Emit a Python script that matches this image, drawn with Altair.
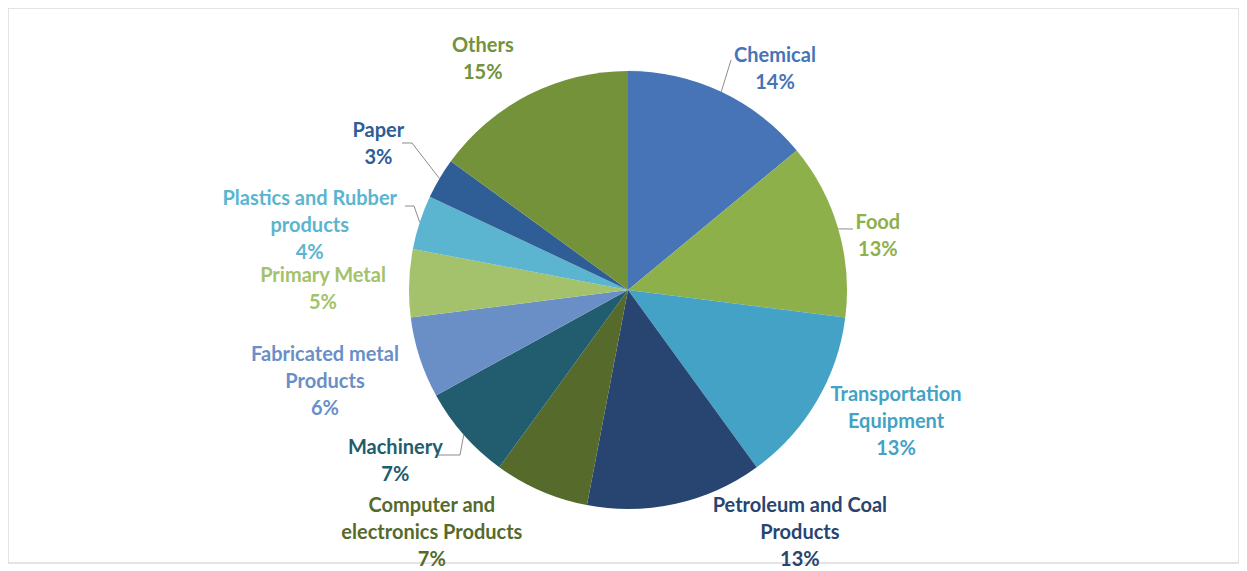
import altair as alt
import pandas as pd
import numpy as np

# ---------------- data ----------------
categories = [
    "Chemical", "Food", "Transportation Equipment", "Petroleum and Coal Products",
    "Computer and electronics Products", "Machinery", "Fabricated metal Products",
    "Primary Metal", "Plastics and Rubber products", "Paper", "Others",
]
shares = [14, 13, 13, 13, 7, 7, 6, 5, 4, 3, 15]
label_names = [
    "Chemical", "Food", "Transportation\nEquipment", "Petroleum and Coal\nProducts",
    "Computer and\nelectronics Products", "Machinery", "Fabricated metal\nProducts",
    "Primary Metal", "Plastics and Rubber\nproducts", "Paper", "Others",
]
colors = [
    "#4674B7", "#8DB04B", "#43A2C5", "#274570", "#556A2B", "#215D6E",
    "#6A8FC7", "#A3C26B", "#5BB5D0", "#2F5D96", "#73923A",
]

# ---------------- layout (pixels, plot coordinates) ----------------
W, H = 1231, 555
CX, CY, R = 620, 282, 219
LINE_H = 27
LABEL_DY = 2
label_shift_deg = [8.2, 3.6, -4.7, -22.9, 15.7, 5.3, 1.5, -1.4, -6.3, 0.0, -5.0]
label_radius = [267, 256, 298, 296, 311, 288, 316, 305, 325, 290, 274]
# leader line bends/ends for labels that have one (page coords minus margin)
leader_paths = {
    "Chemical": [(723, 52)],
    "Food": [(845, 221)],
    "Paper": [(404, 135), (394, 135)],
    "Plastics and Rubber products": [(406, 198), (397, 198)],
    "Machinery": [(452, 447), (430, 447)],
}

df = pd.DataFrame({"category": categories, "share": shares, "idx": range(len(categories))})
cum = np.cumsum(shares)
mid_deg = (cum - np.array(shares) / 2) / cum[-1] * 360.0
df["label"] = [f"{n}\n{s}%" for n, s in zip(label_names, shares)]
n_lines = np.array([lab.count("\n") + 1 for lab in df["label"]])
ang = np.radians(mid_deg + np.array(label_shift_deg))
df["lx"] = CX + np.array(label_radius) * np.sin(ang)
df["ly"] = CY - np.array(label_radius) * np.cos(ang) - (n_lines - 1) * LINE_H / 2 + LABEL_DY

rows = []
for lid, pts in leader_paths.items():
    i = categories.index(lid)
    a = np.radians(mid_deg[i])
    rows.append({"lid": lid, "pt": 0, "px": CX + R * np.sin(a), "py": CY - R * np.cos(a)})
    for k, (px, py) in enumerate(pts, start=1):
        rows.append({"lid": lid, "pt": k, "px": px, "py": py})
leaders_df = pd.DataFrame(rows)

color_scale = alt.Scale(domain=categories, range=colors)

shadow = alt.Chart(pd.DataFrame({"v": [1]})).mark_arc(
    outerRadius=R + 3, x=CX + 1, y=CY + 2, color="#000000", opacity=0.07
).encode(theta=alt.Theta("v:Q"))

pie = alt.Chart(df).mark_arc(outerRadius=R, x=CX, y=CY).encode(
    theta=alt.Theta("share:Q", stack=True),
    order=alt.Order("idx:Q"),
    color=alt.Color("category:N", scale=color_scale, legend=None),
)

leaders = alt.Chart(leaders_df).mark_line(color="#8c8c8c", strokeWidth=1).encode(
    x=alt.X("px:Q", scale=None, axis=None),
    y=alt.Y("py:Q", scale=None, axis=None),
    detail="lid:N",
    order="pt:Q",
)

labels = alt.Chart(df).mark_text(
    font="Lato", fontWeight="bold", fontSize=20, lineBreak="\n", lineHeight=LINE_H,
    align="center", baseline="middle",
).encode(
    x=alt.X("lx:Q", scale=None, axis=None),
    y=alt.Y("ly:Q", scale=None, axis=None),
    text="label:N",
    color=alt.Color("category:N", scale=color_scale, legend=None),
)

chart = alt.layer(shadow, pie, leaders, labels).properties(
    width=W, height=H, padding=0
).configure_view(stroke="#dcdcdc", strokeWidth=1.5)

chart.save("out.html", embed_options={"renderer": "svg", "actions": False})
